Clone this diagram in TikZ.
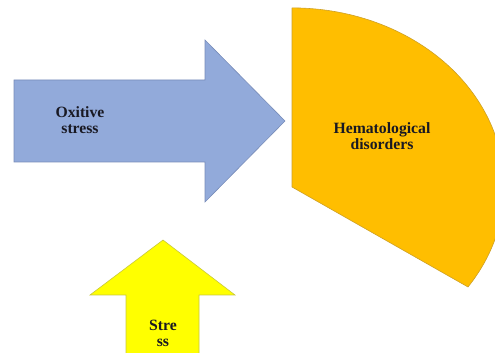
\documentclass[tikz,border=0pt]{standalone}
\usepackage{fontspec}
\setmainfont{Liberation Serif}
\definecolor{arrowblue}{RGB}{146,170,218}
\definecolor{arrowblueline}{RGB}{120,140,185}
\definecolor{sectororange}{RGB}{255,190,0}
\definecolor{sectorline}{RGB}{205,160,40}
\definecolor{arrowyellow}{RGB}{255,255,0}
\definecolor{yellowline}{RGB}{200,200,60}
\definecolor{labelink}{RGB}{25,25,35}
\begin{document}
\begin{tikzpicture}[x=1pt,y=1pt,
	label text/.style={align=center,text=labelink,font=\bfseries\fontsize{15.7}{16}\selectfont}]
	\useasboundingbox (0,0) rectangle (495,353);
	\clip (0,0) rectangle (495,353);
	% oxidative stress arrow
	\draw[fill=arrowblue,draw=arrowblueline,line width=.6pt](14,191)--(205,191)--(205,151)--(285,232)--(205,313)--(205,273)--(14,273)--cycle;
	% hematological sector
	\draw[fill=sectororange,draw=sectorline,line width=.6pt](292,345)--(292,166)--(468,66) arc[start angle=-34,end angle=90,x radius=212,y radius=179]--cycle;
	% stress arrow
	\draw[fill=arrowyellow,draw=yellowline,line width=.6pt](126,-2)--(126,58)--(90,58)--(163,113)--(235,58)--(199,58)--(199,-2)--cycle;
	\node[label text] (oxitive) at (80,233) {Oxitive\\stress};
	\node[label text] (hema) at (382,217) {Hematological\\disorders};
	\node[label text] (stress) at (163,20) {Stre\\ss};
\end{tikzpicture}
\end{document}
